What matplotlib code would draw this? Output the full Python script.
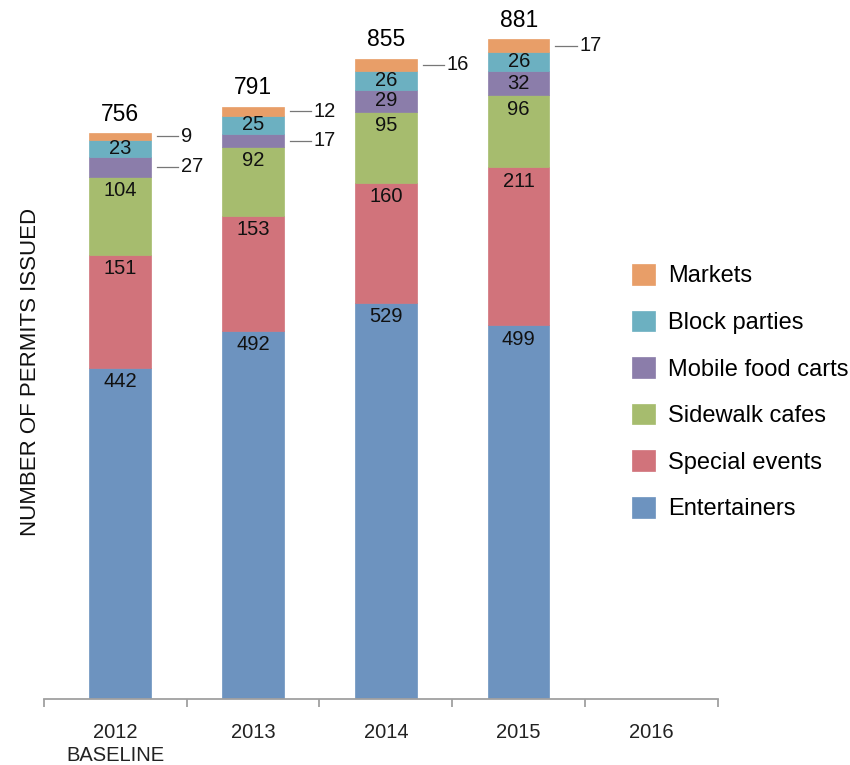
import matplotlib
matplotlib.use("Agg")
import matplotlib.pyplot as plt
import numpy as np

plt.rcParams['font.family'] = ['Liberation Sans', 'DejaVu Sans']

categories = ["2012\nBASELINE", "2013", "2014", "2015", "2016"]
series_names = ["Entertainers", "Special events", "Sidewalk cafes",
                "Mobile food carts", "Block parties", "Markets"]
entertainers = [442, 492, 529, 499]
special_events = [151, 153, 160, 211]
sidewalk_cafes = [104, 92, 95, 96]
mobile_food_carts = [27, 17, 29, 32]
block_parties = [23, 25, 26, 26]
markets = [9, 12, 16, 17]
totals = [756, 791, 855, 881]

colors = ["#6D93BF", "#D1737B", "#A6BC6E", "#8B7DAA", "#6CB0C1", "#E89E68"]
series = [entertainers, special_events, sidewalk_cafes, mobile_food_carts,
          block_parties, markets]
# labels placed outside the bar with a leader line: (series index, bar index)
outside = {(5, 0), (5, 1), (5, 2), (5, 3), (3, 0), (3, 1)}

fig = plt.figure(figsize=(8.5, 7.65), dpi=100)
x_left = -0.573
ax = fig.add_axes([44 / 850, 1 - 699 / 765, 674 / 850, 689 / 765])

x = np.arange(len(entertainers))
width = 0.462
bottom = np.zeros(len(x))
for si, (vals, col, name) in enumerate(zip(series, colors, series_names)):
    vals = np.array(vals, dtype=float)
    ax.bar(x, vals, width, bottom=bottom, color=col, label=name,
           edgecolor=col, linewidth=0.5, zorder=2)
    for i, v in enumerate(vals):
        top = bottom[i] + v
        yc = bottom[i] + v / 2
        if (si, i) in outside:
            x0 = x[i] + width / 2 + 0.045
            x1 = x0 + 0.16
            ax.plot([x0, x1], [yc, yc], color="#777777", lw=0.9, zorder=3)
            ax.text(x1 + 0.02, yc, f"{int(v)}", ha="left", va="center",
                    fontsize=14.5, color="#111111")
        else:
            yt = max(yc, top - 18.5)
            ax.text(x[i], yt, f"{int(v)}", ha="center", va="center",
                    fontsize=14.5, color="#111111")
    bottom += vals

for i, t in enumerate(totals):
    ax.text(x[i], t + 25, f"{t}", ha="center", va="center", fontsize=16.5,
            color="#000000", fontweight="medium")

ax.set_xlim(x_left, 4.5)
ax.set_ylim(0, 920)
ax.set_yticks([])
label_pos = [(x_left + 0.5) / 2, 1, 2, 3, 4]
ax.set_xticks(label_pos)
ax.set_xticklabels(categories, fontsize=14.5, color="#222222",
                   linespacing=1.3)
ax.set_xticks([x_left, 0.5, 1.5, 2.5, 3.5, 4.5], minor=True)
ax.tick_params(axis="x", which="major", length=0, pad=17)
ax.tick_params(axis="x", which="minor", length=6, color="#A0A0A0", width=1.3)
for s in ["top", "right", "left"]:
    ax.spines[s].set_visible(False)
ax.spines["bottom"].set_color("#A0A0A0")
ax.spines["bottom"].set_linewidth(1.3)
ax.set_ylabel("NUMBER OF PERMITS ISSUED", fontsize=16, color="#111111")
ax.yaxis.set_label_coords(-0.005, 0.475)

handles, labels = ax.get_legend_handles_labels()
leg = fig.legend(handles[::-1], labels[::-1], loc="upper left",
                 bbox_to_anchor=(632 / 850, 1 - 264 / 765), frameon=False,
                 fontsize=17, handlelength=0.97, handleheight=0.97,
                 labelspacing=0.98, handletextpad=0.55, borderpad=0,
                 borderaxespad=0)

fig.savefig("out.png", dpi=100)
